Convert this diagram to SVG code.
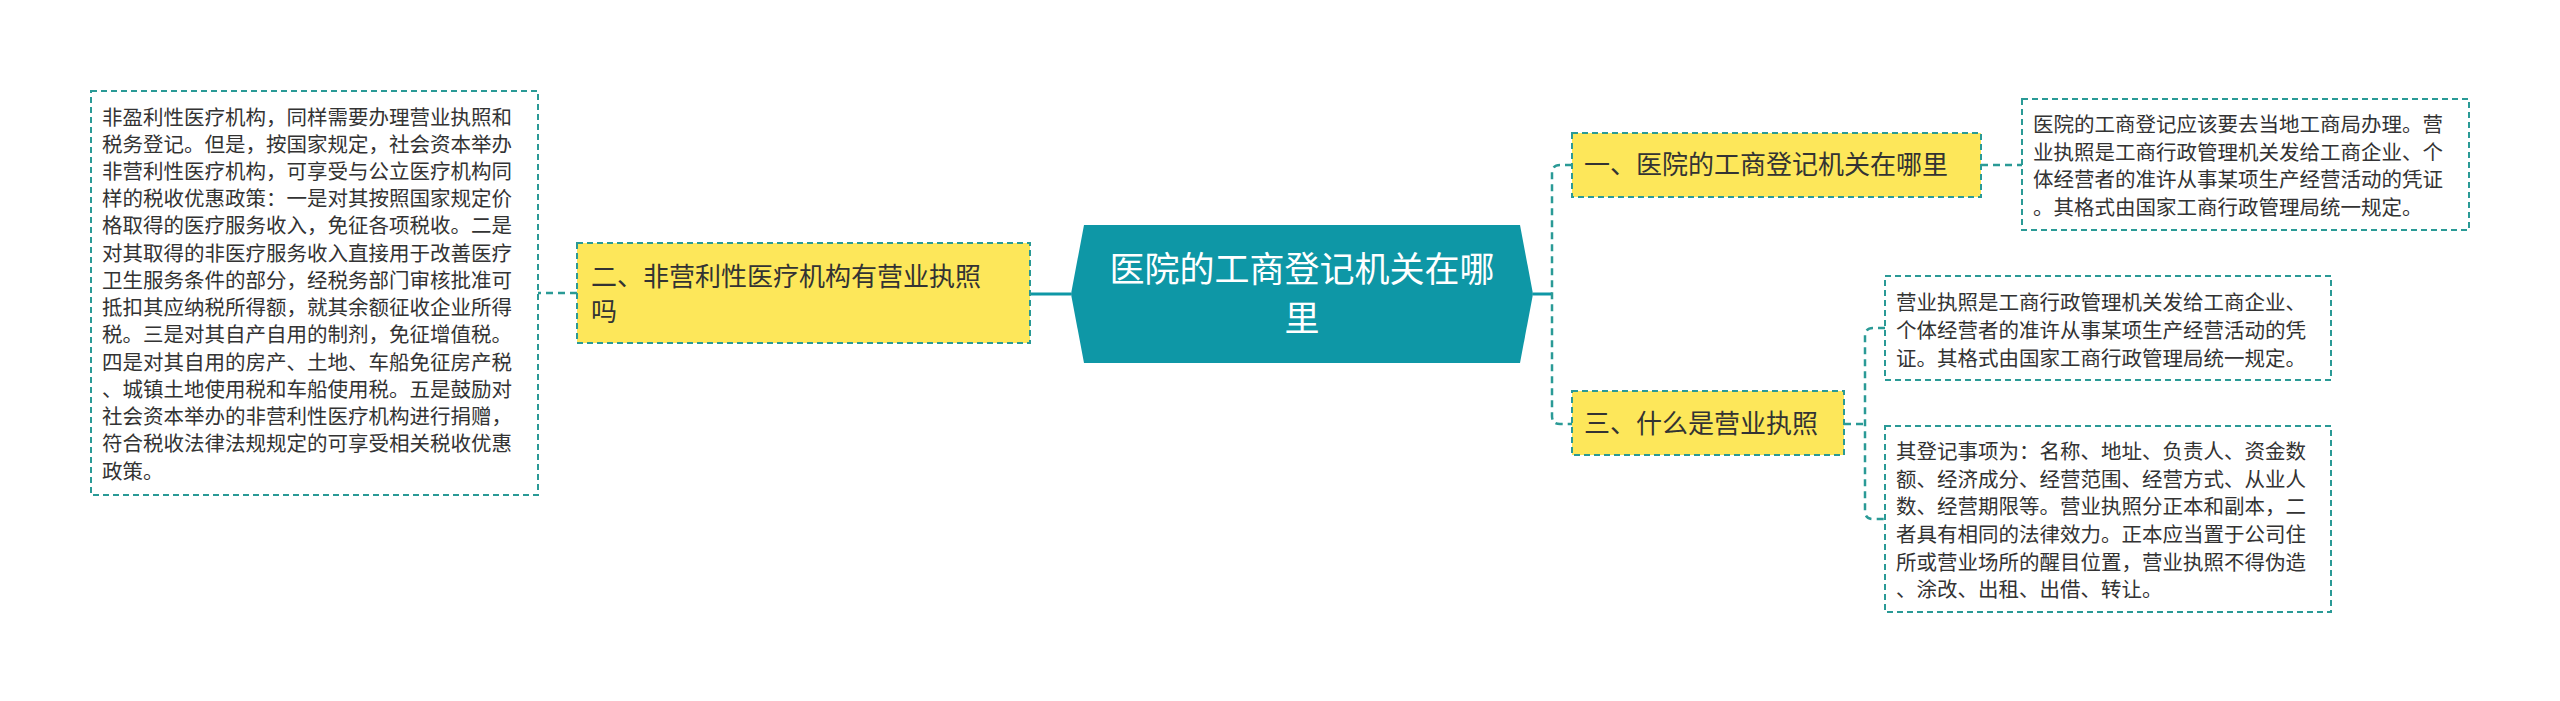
<svg xmlns="http://www.w3.org/2000/svg" width="2560" height="701" viewBox="0 0 2560 701">
<style>
text{font-family:"Noto Sans CJK SC","Liberation Sans",sans-serif;fill:#333}
.y{fill:#fde75a;stroke:#2a9a96;stroke-width:2;stroke-dasharray:6 4}
.b{fill:#fff;stroke:#2a9a96;stroke-width:2;stroke-dasharray:6 4}
.c{fill:none;stroke:#2a9a96;stroke-width:2.5;stroke-dasharray:7 5}
.t1{font-size:26px}
.t2{font-size:20.5px}
</style>
<rect width="2560" height="701" fill="#fff"/>
<g id="connectors">
<path d="M1533 294H1552" stroke="#0e97a6" stroke-width="3" fill="none"/>
<path class="c" d="M1572 165H1560Q1552 165 1552 173V416Q1552 424 1560 424H1572"/>
<path d="M1071 294H1031" stroke="#0e97a6" stroke-width="3" fill="none"/>
<path class="c" d="M577 293H538"/>
<path class="c" d="M1981 165H2022"/>
<path class="c" d="M1844 424H1865"/>
<path class="c" d="M1885 328H1873Q1865 328 1865 336V511Q1865 519 1873 519H1885"/>
</g>
<g id="center">
<polygon points="1071,294 1084,225 1520,225 1533,294 1520,363 1084,363" fill="#0e97a6"/>
<text x="1302" y="282" text-anchor="middle" font-size="35" style="fill:#fff">医院的工商登记机关在哪</text>
<text x="1302" y="331" text-anchor="middle" font-size="35" style="fill:#fff">里</text>
</g>
<g id="n1">
<rect class="y" x="1572" y="133" width="409" height="64"/>
<text class="t1" x="1584" y="174">一、医院的工商登记机关在哪里</text>
</g>
<g id="n1d">
<rect class="b" x="2022" y="99" width="447" height="131"/>
<text class="t2" x="2033" y="132">医院的工商登记应该要去当地工商局办理。营</text>
<text class="t2" x="2033" y="160">业执照是工商行政管理机关发给工商企业、个</text>
<text class="t2" x="2033" y="187">体经营者的准许从事某项生产经营活动的凭证</text>
<text class="t2" x="2033" y="215">。其格式由国家工商行政管理局统一规定。</text>
</g>
<g id="n3">
<rect class="y" x="1572" y="391" width="272" height="64"/>
<text class="t1" x="1584" y="433">三、什么是营业执照</text>
</g>
<g id="n3a">
<rect class="b" x="1885" y="276" width="446" height="104"/>
<text class="t2" x="1896" y="310">营业执照是工商行政管理机关发给工商企业、</text>
<text class="t2" x="1896" y="338">个体经营者的准许从事某项生产经营活动的凭</text>
<text class="t2" x="1896" y="366">证。其格式由国家工商行政管理局统一规定。</text>
</g>
<g id="n3b">
<rect class="b" x="1885" y="426" width="446" height="186"/>
<text class="t2" x="1896" y="459">其登记事项为：名称、地址、负责人、资金数</text>
<text class="t2" x="1896" y="487">额、经济成分、经营范围、经营方式、从业人</text>
<text class="t2" x="1896" y="514">数、经营期限等。营业执照分正本和副本，二</text>
<text class="t2" x="1896" y="542">者具有相同的法律效力。正本应当置于公司住</text>
<text class="t2" x="1896" y="570">所或营业场所的醒目位置，营业执照不得伪造</text>
<text class="t2" x="1896" y="597">、涂改、出租、出借、转让。</text>
</g>
<g id="n2">
<rect class="y" x="577" y="243" width="453" height="100"/>
<text class="t1" x="591" y="286">二、非营利性医疗机构有营业执照</text>
<text class="t1" x="591" y="321">吗</text>
</g>
<g id="n2d">
<rect class="b" x="91" y="91" width="447" height="404"/>
<text class="t2" x="102" y="125">非盈利性医疗机构，同样需要办理营业执照和</text>
<text class="t2" x="102" y="152">税务登记。但是，按国家规定，社会资本举办</text>
<text class="t2" x="102" y="179">非营利性医疗机构，可享受与公立医疗机构同</text>
<text class="t2" x="102" y="206">样的税收优惠政策：一是对其按照国家规定价</text>
<text class="t2" x="102" y="233">格取得的医疗服务收入，免征各项税收。二是</text>
<text class="t2" x="102" y="261">对其取得的非医疗服务收入直接用于改善医疗</text>
<text class="t2" x="102" y="288">卫生服务条件的部分，经税务部门审核批准可</text>
<text class="t2" x="102" y="315">抵扣其应纳税所得额，就其余额征收企业所得</text>
<text class="t2" x="102" y="342">税。三是对其自产自用的制剂，免征增值税。</text>
<text class="t2" x="102" y="370">四是对其自用的房产、土地、车船免征房产税</text>
<text class="t2" x="102" y="397">、城镇土地使用税和车船使用税。五是鼓励对</text>
<text class="t2" x="102" y="424">社会资本举办的非营利性医疗机构进行捐赠，</text>
<text class="t2" x="102" y="451">符合税收法律法规规定的可享受相关税收优惠</text>
<text class="t2" x="102" y="479">政策。</text>
</g>
</svg>
